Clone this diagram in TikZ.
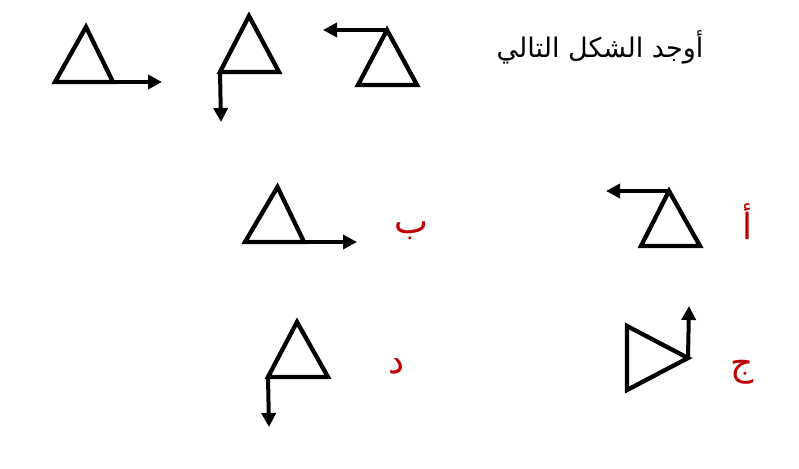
\documentclass[tikz,border=0pt]{standalone}
\usepackage{fontspec}
\usetikzlibrary{arrows.meta}
\TeXXeTstate=1
\newfontfamily\arabicfont[Script=Arabic]{DejaVu Sans}
\definecolor{lblred}{RGB}{192,0,0}
\tikzset{
  tri/.style={line width=4.3pt, line join=miter},
  arr/.style={line width=4pt, -{Triangle[length=14pt,width=14pt]}},
  lbl/.style={font=\arabicfont\fontsize{36}{40}\selectfont, text=lblred, inner sep=0pt},
  ttl/.style={font=\arabicfont\fontsize{27}{32}\selectfont, inner sep=0pt}
}
\begin{document}
\begin{tikzpicture}[x=1pt,y=-1pt]
\useasboundingbox (0,0) rectangle (799,468);
% title
\node[ttl] (title) at (600,47) {\beginR أوجد الشكل التالي\endR};
% top row, figure 1
\coordinate (a1) at (86,27); \coordinate (a2) at (55,82); \coordinate (a3) at (113,82);
\coordinate (a4) at (162,82);
\draw[tri] (a1) -- (a2) -- (a3) -- cycle;
\draw[arr] (a3) -- (a4);
% figure 2
\coordinate (b1) at (249,16); \coordinate (b2) at (220,72); \coordinate (b3) at (279,72);
\coordinate (b4) at (221,122);
\draw[tri] (b1) -- (b2) -- (b3) -- cycle;
\draw[arr] (b2) -- (b4);
% figure 3
\coordinate (c1) at (387,30); \coordinate (c2) at (358,85); \coordinate (c3) at (417,85);
\coordinate (c4) at (323,30);
\draw[tri] (c1) -- (c2) -- (c3) -- cycle;
\draw[arr] (c1) -- (c4);
% answer ba
\coordinate (d1) at (277.5,187); \coordinate (d2) at (245,242); \coordinate (d3) at (304,242);
\coordinate (d4) at (357,242);
\draw[tri] (d1) -- (d2) -- (d3) -- cycle;
\draw[arr] (d3) -- (d4);
\node[lbl] (lb) at (411,231) {\beginR ب\endR};
% answer alif
\coordinate (e1) at (669,191); \coordinate (e2) at (641,246); \coordinate (e3) at (700,246);
\coordinate (e4) at (606,191);
\draw[tri] (e1) -- (e2) -- (e3) -- cycle;
\draw[arr] (e1) -- (e4);
\node[lbl] (la) at (747,222) {\beginR أ\endR};
% answer dal
\coordinate (f1) at (297,322); \coordinate (f2) at (268,377); \coordinate (f3) at (328,377);
\coordinate (f4) at (269,427);
\draw[tri] (f1) -- (f2) -- (f3) -- cycle;
\draw[arr] (f2) -- (f4);
\node[lbl] (ld) at (397,366) {\beginR د\endR};
% answer jim
\coordinate (g1) at (627,326); \coordinate (g2) at (627,390); \coordinate (g3) at (688,358);
\coordinate (g4) at (689,306);
\draw[tri] (g1) -- (g2) -- (g3) -- cycle;
\draw[arr] (g3) -- (g4);
\node[lbl] (lj) at (742,372) {\beginR ج\endR};
\end{tikzpicture}
\end{document}
